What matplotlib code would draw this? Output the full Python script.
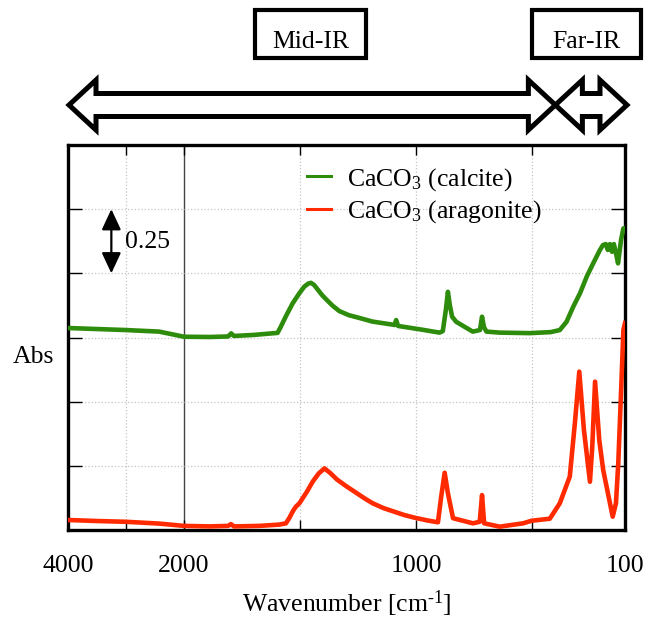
import numpy as np
import matplotlib
matplotlib.use("Agg")
import matplotlib.pyplot as plt
from matplotlib.patches import Polygon, Rectangle
from matplotlib.scale import FuncScale

plt.rcParams['font.family'] = ['Liberation Serif', 'DejaVu Serif']
plt.rcParams['mathtext.fontset'] = 'custom'
plt.rcParams['mathtext.rm'] = 'Liberation Serif'
plt.rcParams['mathtext.it'] = 'Liberation Serif:italic'

# ---------------- data ----------------
calcite_wn = [4000, 3500, 3000, 2430, 2000, 1890, 1810, 1797, 1785, 1700, 1597, 1583,
              1560, 1532, 1505, 1482, 1465, 1453, 1440, 1425, 1405, 1388, 1360, 1331, 1290,
              1244, 1188, 1093, 1086, 1078, 985,
              899, 885, 872, 863, 855, 845, 827, 790, 756, 725, 716, 708, 697, 640,
              510, 420, 381, 352, 323, 294, 265, 237, 208, 195, 183, 174, 165, 156,
              148, 140, 130, 117, 107, 100]
calcite_abs = [0.787, 0.783, 0.779, 0.773, 0.753, 0.752, 0.754, 0.766, 0.756, 0.760, 0.768, 0.792,
               0.835, 0.883, 0.920, 0.948, 0.960, 0.963, 0.955, 0.938, 0.915, 0.899, 0.874, 0.853, 0.837,
               0.826, 0.812, 0.799, 0.818, 0.795, 0.782,
               0.769, 0.775, 0.857, 0.928, 0.877, 0.831, 0.811, 0.791, 0.773, 0.779, 0.831, 0.791, 0.773, 0.769,
               0.767, 0.771, 0.779, 0.811, 0.870, 0.922, 0.987, 1.039, 1.091, 1.110, 1.114, 1.091, 1.114, 1.084,
               1.114, 1.083, 1.039, 1.130, 1.175, 1.176]

aragonite_wn = [4000, 3500, 3000, 2430, 2000, 1890, 1810, 1798, 1785, 1676, 1590, 1561,
                1547, 1530, 1518, 1503, 1470, 1446, 1420, 1395, 1370, 1340, 1300, 1260,
                1220, 1187, 1140, 1093, 1050, 1007, 950,
                906, 892, 877, 863, 841, 755, 726, 716, 707, 640, 539, 503, 424, 381,
                338, 316, 297, 277, 251, 241, 229, 211, 194, 153, 139, 129, 115, 107, 100]
aragonite_abs = [0.039, 0.035, 0.032, 0.025, 0.016, 0.014, 0.016, 0.023, 0.014, 0.016, 0.021, 0.026,
                 0.046, 0.075, 0.091, 0.104, 0.150, 0.188, 0.220, 0.240, 0.222, 0.196, 0.170, 0.146,
                 0.122, 0.104, 0.085, 0.071, 0.058, 0.048, 0.037,
                 0.030, 0.130, 0.223, 0.143, 0.046, 0.026, 0.032, 0.136, 0.026, 0.013, 0.026, 0.036, 0.044, 0.104,
                 0.208, 0.416, 0.617, 0.390, 0.188, 0.325, 0.578, 0.351, 0.234, 0.052, 0.104, 0.260, 0.584, 0.779, 0.806]

x_ticks = [4000, 3000, 2000, 1500, 1000, 500, 100]
x_tick_labels = ['4000', '', '2000', '', '1000', '', '100']
y_ticks = [0, 0.25, 0.5, 0.75, 1.0, 1.25, 1.5]
region_bounds = [4000, 400, 100]
region_names = ['Mid-IR', 'Far-IR']
series_labels = ['CaCO$_3$ (calcite)', 'CaCO$_3$ (aragonite)']

green = '#2E8C0C'
red = '#FF2A00'
FS = 18.5

W, H = 654, 621
fig = plt.figure(figsize=(W / 100, H / 100), dpi=100)


def F(x, y):
    return (x / W, 1 - y / H)


ax = fig.add_axes([68 / W, (H - 530) / H, 557 / W, 385 / H])


def fwd(x):
    x = np.asarray(x, dtype=float)
    return np.where(x > 2000, 2000 + (x - 2000) / 4.0, x)


def inv(y):
    y = np.asarray(y, dtype=float)
    return np.where(y > 2000, 2000 + (y - 2000) * 4.0, y)


ax.set_xscale(FuncScale(ax, (fwd, inv)))
ax.set_xlim(4000, 100)
ax.set_ylim(0, 1.5)

ax.plot(calcite_wn, calcite_abs, color=green, lw=3.3, solid_joinstyle='round', label=series_labels[0], zorder=3)
ax.plot(aragonite_wn, aragonite_abs, color=red, lw=3.3, solid_joinstyle='round', label=series_labels[1], zorder=3)

ax.set_xticks(x_ticks)
ax.set_xticklabels(x_tick_labels)
ax.set_yticks(y_ticks)
ax.set_yticklabels([])
ax.xaxis.set_minor_locator(matplotlib.ticker.NullLocator())
ax.tick_params(axis='x', direction='in', length=7, width=1, top=True, bottom=True,
               labelsize=FS, pad=18)
ax.tick_params(axis='y', direction='in', length=10, width=1, left=True, right=True)

ax.grid(True, color='#c4c4c4', linestyle=':', linewidth=0.9)
gl = ax.get_xgridlines()
gl[2].set_linestyle('-')
gl[2].set_color('#444444')
gl[2].set_linewidth(1.0)

for s in ax.spines.values():
    s.set_linewidth(2.4)

ax.set_xlabel(r'Wavenumber [cm$^{\text{-1}}$]', fontsize=FS, labelpad=8)
fig.text(*F(33, 357), 'Abs', fontsize=FS, ha='center', va='center')

leg = ax.legend(loc='upper left', bbox_to_anchor=F(307, 166), bbox_transform=fig.transFigure,
                frameon=False, fontsize=FS, handlelength=0.95, handletextpad=0.6,
                labelspacing=0.22, borderpad=0, borderaxespad=0)
for ln in leg.get_lines():
    ln.set_linewidth(2.2)

# 0.25 scale bar
ax.annotate('', xy=(3253, 1.0), xytext=(3253, 1.25),
            arrowprops=dict(arrowstyle='<|-|>,head_length=0.9,head_width=0.42', color='black', lw=1.6,
                            shrinkA=0, shrinkB=0, mutation_scale=14))
ax.text(3009, 1.123, '0.25', fontsize=FS, ha='left', va='center')

# region arrows and boxes
fig.canvas.draw()


def xpix(wn):
    return ax.transData.transform((wn, 0))[0]


def double_arrow(x0, x1, yc, head_len=27, head_half=25, shaft_half=11.5):
    pts = [(x0, yc), (x0 + head_len, yc - head_half), (x0 + head_len, yc - shaft_half),
           (x1 - head_len, yc - shaft_half), (x1 - head_len, yc - head_half), (x1, yc),
           (x1 - head_len, yc + head_half), (x1 - head_len, yc + shaft_half),
           (x0 + head_len, yc + shaft_half), (x0 + head_len, yc + head_half)]
    poly = Polygon([F(px, py) for px, py in pts], closed=True, facecolor='white',
                   edgecolor='black', lw=3.6, joinstyle='miter', transform=fig.transFigure)
    fig.add_artist(poly)


xa = xpix(region_bounds[0]) + 1
xb = xpix(region_bounds[1])
xc = xpix(region_bounds[2]) + 2
double_arrow(xa, xb, 105)
double_arrow(xb, xc, 105)

boxes = [(255, 366), (532, 641)]
for (bx0, bx1), name in zip(boxes, region_names):
    r = Rectangle(F(bx0, 58), (bx1 - bx0) / W, 48 / H, transform=fig.transFigure,
                  facecolor='white', edgecolor='black', lw=3.0)
    fig.add_artist(r)
    fig.text(*F((bx0 + bx1) / 2, 48), name, fontsize=FS, ha='center', va='baseline')

fig.savefig('out.png', dpi=100)
